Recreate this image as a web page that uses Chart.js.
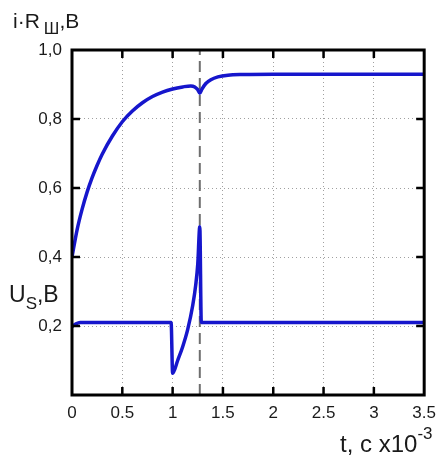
<!DOCTYPE html>
<html>
<head>
<meta charset="utf-8">
<script src="https://cdn.jsdelivr.net/npm/chart.js@4"></script>
<style>
  html, body { margin: 0; padding: 0; background: #fff; }
  #wrap { position: relative; width: 444px; height: 457px; font-family: "Liberation Sans", Arial, sans-serif; color: #1a1a1a; }
  canvas { position: absolute; left: 0; top: 0; }
  .lbl { position: absolute; white-space: nowrap; line-height: 1; }
  .lbl span { position: relative; }
</style>
</head>
<body>
<div id="wrap">
  <canvas id="c" width="444" height="457"></canvas>
  <div class="lbl" style="left:13px; top:10px; font-size:21px;">i·R<span style="font-size:17px; top:6px; margin-left:4px;">Ш</span>,B</div>
  <div class="lbl" style="left:9px; top:283px; font-size:23px;">U<span style="font-size:17px; top:7px;">S</span>,B</div>
  <div class="lbl" style="left:340px; top:432px; font-size:24px;">t, c x10<span style="font-size:17px; top:-13px;">-3</span></div>
</div>
<script>
// Upper curve: i·R_Ш (V) vs t (×10^-3 s)
const tUpper = [0, 0.05, 0.1, 0.15, 0.2, 0.25, 0.3, 0.4, 0.5, 0.6, 0.7, 0.8, 0.9, 1.0, 1.1, 1.18, 1.22, 1.25, 1.27, 1.29, 1.33, 1.38, 1.45, 1.55, 1.7, 2.0, 3.5];
const vUpper = [0.40, 0.478, 0.538, 0.588, 0.630, 0.666, 0.698, 0.750, 0.792, 0.823, 0.847, 0.865, 0.878, 0.887, 0.893, 0.896, 0.893, 0.885, 0.875, 0.886, 0.903, 0.914, 0.922, 0.927, 0.929, 0.93, 0.93];
// Lower curve: U_S (V) vs t
const tLower = [0, 0.04, 0.08, 0.2, 0.985, 1.0, 1.05, 1.1, 1.15, 1.2, 1.23, 1.25, 1.27, 1.285, 3.5];
const vLower = [0.198, 0.206, 0.21, 0.21, 0.21, 0.063, 0.10, 0.14, 0.19, 0.26, 0.32, 0.38, 0.488, 0.21, 0.21];
// Dashed marker line at switching instant
const tMarker = [1.27, 1.27];
const vMarker = [0, 1.0];
// Axis ticks
const xTicks = [0, 0.5, 1, 1.5, 2, 2.5, 3, 3.5];
const yTicks = [0, 0.2, 0.4, 0.6, 0.8, 1.0];

const pts = (xs, ys) => xs.map((x, i) => ({x, y: ys[i]}));
const BLUE = '#1616cc';

const frame = {
  id: 'frame',
  afterDraw(chart) {
    const {ctx, chartArea: a, scales: {x, y}} = chart;
    ctx.save();
    ctx.strokeStyle = '#000';
    ctx.lineWidth = 2.5;
    const tl = 8;
    ctx.beginPath();
    xTicks.forEach(v => {
      if (v === 0 || v === 3.5) return;
      const px = x.getPixelForValue(v);
      ctx.moveTo(px, a.bottom); ctx.lineTo(px, a.bottom - tl);
      ctx.moveTo(px, a.top); ctx.lineTo(px, a.top + tl);
    });
    yTicks.forEach(v => {
      if (v === 0 || v === 1.0) return;
      const py = y.getPixelForValue(v);
      ctx.moveTo(a.left, py); ctx.lineTo(a.left + tl, py);
      ctx.moveTo(a.right, py); ctx.lineTo(a.right - tl, py);
    });
    ctx.stroke();
    ctx.lineWidth = 3;
    ctx.strokeRect(a.left, a.top, a.right - a.left, a.bottom - a.top);
    ctx.restore();
  }
};

new Chart(document.getElementById('c'), {
  type: 'line',
  data: {
    datasets: [
      { data: pts(tUpper, vUpper), borderColor: BLUE, borderWidth: 3.5, pointRadius: 0, cubicInterpolationMode: 'monotone', fill: false },
      { data: pts(tLower, vLower), borderColor: BLUE, borderWidth: 3.5, pointRadius: 0, cubicInterpolationMode: 'monotone', fill: false },
      { data: pts(tMarker, vMarker), borderColor: '#6e6e6e', borderWidth: 2, borderDash: [11, 6], pointRadius: 0, fill: false }
    ]
  },
  options: {
    responsive: false,
    animation: false,
    layout: { padding: { top: 50, right: 14, left: 0, bottom: 0 } },
    plugins: { legend: { display: false }, tooltip: { enabled: false } },
    scales: {
      x: {
        type: 'linear', min: 0, max: 3.5,
        afterFit: s => { s.height = 62; },
        afterBuildTicks: s => { s.ticks = xTicks.map(v => ({value: v})); },
        ticks: { padding: 8, color: '#1a1a1a', font: { family: '"Liberation Sans", Arial, sans-serif', size: 17 }, callback: v => String(v), maxRotation: 0, autoSkip: false },
        grid: { drawTicks: false, lineWidth: 1, color: c => (c.tick && (c.tick.value === 0 || c.tick.value === 3.5)) ? 'rgba(0,0,0,0)' : '#a0a0a0' },
        border: { display: false, dash: [1, 3] }
      },
      y: {
        type: 'linear', min: 0, max: 1.0,
        afterFit: s => { s.width = 72; },
        afterBuildTicks: s => { s.ticks = yTicks.map(v => ({value: v})); },
        ticks: { padding: 10, color: '#1a1a1a', font: { family: '"Liberation Sans", Arial, sans-serif', size: 17 }, callback: v => v === 0 ? '' : v.toFixed(1).replace('.', ','), autoSkip: false },
        grid: { drawTicks: false, lineWidth: 1, color: c => (c.tick && (c.tick.value === 0 || c.tick.value === 1.0)) ? 'rgba(0,0,0,0)' : '#a0a0a0' },
        border: { display: false, dash: [1, 3] }
      }
    }
  },
  plugins: [frame]
});
</script>
</body>
</html>
